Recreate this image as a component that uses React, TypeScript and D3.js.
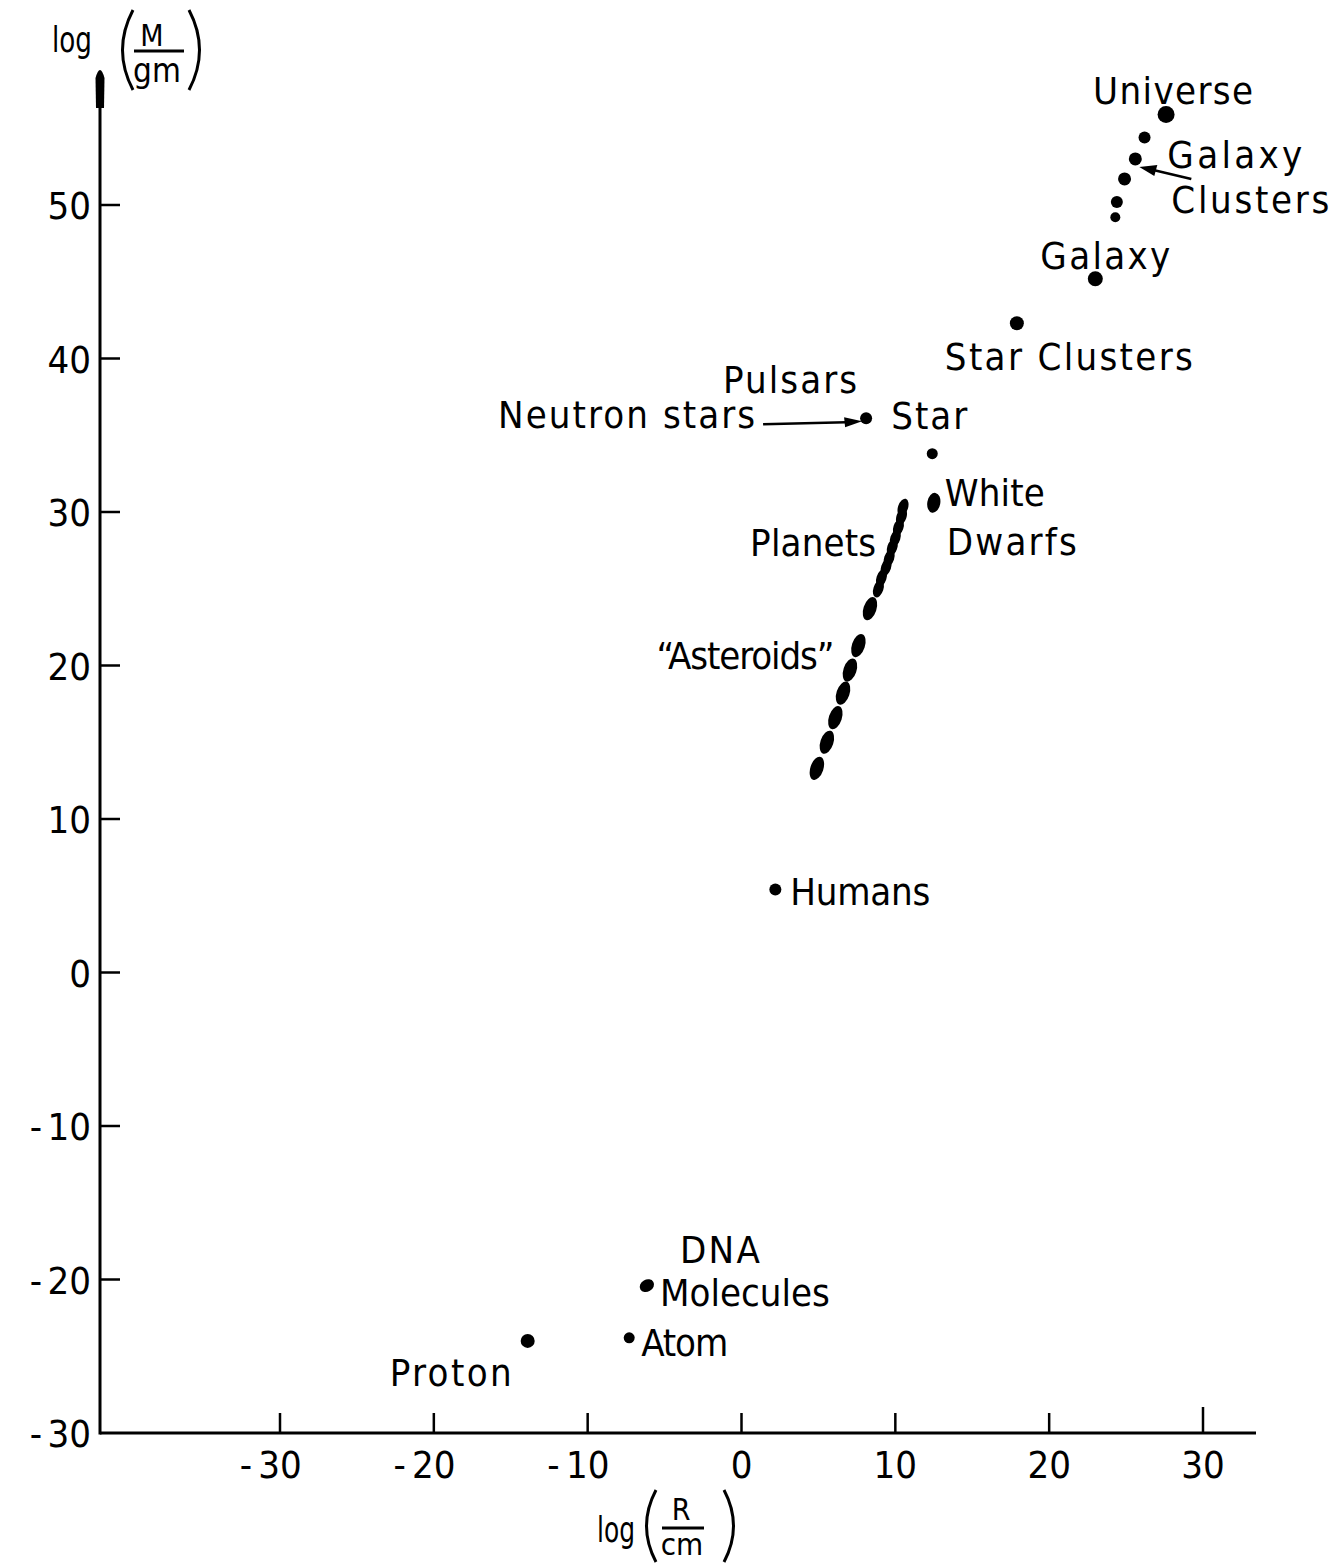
import React from "react";
import * as d3 from "d3";

// ---- data (log10 R/cm , log10 M/gm) ----
const objectNames = ["Universe", "Galaxy", "Star Clusters", "Pulsars", "Star", "White Dwarfs", "Humans", "DNA Molecules", "Atom", "Proton"];
const objectLogR = [27.6, 23.0, 17.9, 8.1, 12.4, 12.5, 2.2, -6.15, -7.3, -13.9];
const objectLogM = [55.9, 45.2, 42.3, 36.1, 33.8, 30.6, 5.4, -20.4, -23.8, -24.0];

const clusterLogR = [26.2, 25.6, 24.9, 24.4, 24.3];
const clusterLogM = [54.4, 53.0, 51.7, 50.2, 49.2];

const planetLogR = [10.5, 10.4, 10.2, 10.0, 9.8, 9.6, 9.4, 9.1, 8.9];
const planetLogM = [30.3, 29.7, 29.0, 28.3, 27.7, 27.0, 26.4, 25.7, 25.0];

const asteroidLogR = [8.35, 7.6, 7.05, 6.6, 6.1, 5.55, 4.9];
const asteroidLogM = [23.7, 21.3, 19.7, 18.2, 16.6, 15.0, 13.3];

const xTicks = [-30, -20, -10, 0, 10, 20, 30];
const yTicks = [-30, -20, -10, 0, 10, 20, 30, 40, 50];

// ---- layout ----
const W = 1339;
const H = 1565;
const FONT = "'DejaVu Sans', sans-serif";
const FS = 38;

const x = d3.scaleLinear().domain([-30, 30]).range([280, 1203]);
const y = d3.scaleLinear().domain([-30, 50]).range([1433, 205]);
const AX = 100; // y-axis position (px)
const AY = y(-30);

const dotSize: Record<string, [number, number, number]> = {
  "Universe": [8.5, 8.5, 0],
  "Galaxy": [7.5, 7.5, 0],
  "Star Clusters": [7, 7, 0],
  "Pulsars": [6, 6, 0],
  "Star": [5.5, 5.5, 0],
  "White Dwarfs": [6.5, 10, 10],
  "Humans": [6, 6, 0],
  "DNA Molecules": [7.5, 6, -30],
  "Atom": [5.5, 5.5, 0],
  "Proton": [7, 7, 0],
};
const clusterDotR = [6, 6.5, 6.5, 6, 5];
type Lab = { t: string; dx: number; dy: number; w: number };
const labelLayout: Record<string, Lab[]> = {
  "Universe": [{ t: "Universe", dx: -73, dy: -10, w: 160 }],
  "Galaxy": [{ t: "Galaxy", dx: -55, dy: -10, w: 130 }],
  "Star Clusters": [{ t: "Star Clusters", dx: -72, dy: 47, w: 248 }],
  "Pulsars": [
    { t: "Pulsars", dx: -143, dy: -25, w: 134 },
    { t: "Neutron stars", dx: -368, dy: 10, w: 257 },
  ],
  "Star": [{ t: "Star", dx: -41, dy: -25, w: 76 }],
  "White Dwarfs": [
    { t: "White", dx: 11, dy: 3, w: 100 },
    { t: "Dwarfs", dx: 13, dy: 52, w: 130 },
  ],
  "Humans": [{ t: "Humans", dx: 15, dy: 15, w: 140 }],
  "DNA Molecules": [
    { t: "DNA", dx: 33, dy: -23, w: 80 },
    { t: "Molecules", dx: 13, dy: 20, w: 170 },
  ],
  "Atom": [{ t: "Atom", dx: 12, dy: 18, w: 87 }],
  "Proton": [{ t: "Proton", dx: -138, dy: 45, w: 122 }],
};

function Label({ x0, y0, l }: { x0: number; y0: number; l: Lab }) {
  return (
    <text x={x0 + l.dx} y={y0 + l.dy} textLength={l.w} lengthAdjust="spacing" fill="#000">{l.t}</text>
  );
}

export default function App() {
  const angle = (Math.atan2(x(asteroidLogR[0]) - x(asteroidLogR[6]), y(asteroidLogM[6]) - y(asteroidLogM[0])) * 180) / Math.PI;
  const c1x = x(clusterLogR[1]), c1y = y(clusterLogM[1]);
  const pul = [x(objectLogR[3]), y(objectLogM[3])];

  return (
    <svg width={W} height={H} viewBox={`0 0 ${W} ${H}`}
      fontFamily={FONT} fontSize={FS}
      style={{ position: "absolute", left: 0, top: 0, background: "#fff", fontStretch: "condensed" }}>
      <rect width={W} height={H} fill="#fff" />
      {/* axes */}
      <line x1={AX} y1={AY} x2={1256} y2={AY} stroke="#000" strokeWidth={3} />
      <line x1={AX} y1={AY + 1.5} x2={AX} y2={100} stroke="#000" strokeWidth={3} />
      <path d={`M ${AX - 4} 108 L ${AX - 4.5} 78 Q ${AX} 62 ${AX + 4.5} 78 L ${AX + 4} 108 Z`} fill="#000" />

      {/* x ticks */}
      {xTicks.map((t) => (
        <g key={"xt" + t}>
          <line x1={x(t)} y1={AY} x2={x(t)} y2={AY - (t === 30 ? 26 : 20)} stroke="#000" strokeWidth={2.5} />
          <text x={x(t)} y={AY + 45} textAnchor="middle">{Math.abs(t)}</text>
          {t < 0 && <text x={x(t) - 28} y={AY + 45} textAnchor="end">-</text>}
        </g>
      ))}
      {/* y ticks */}
      {yTicks.map((t) => (
        <g key={"yt" + t}>
          {t !== -30 && <line x1={AX} y1={y(t)} x2={AX + 20} y2={y(t)} stroke="#000" strokeWidth={2.5} />}
          <text x={91} y={y(t) + 14} textAnchor="end">{Math.abs(t)}</text>
          {t < 0 && (
            <text x={91 - String(Math.abs(t)).length * 22 - 5} y={y(t) + 14} textAnchor="end">-</text>
          )}
        </g>
      ))}

      {/* y axis title: log(M/gm) */}
      <text x={52} y={52} fontSize={36} textLength={40} lengthAdjust="spacingAndGlyphs">log</text>
      <path d="M 133 10 Q 112 50 133 90" fill="none" stroke="#000" strokeWidth={3} />
      <text x={152} y={46} textAnchor="middle" fontSize={30}>M</text>
      <line x1={134} y1={51} x2={184} y2={51} stroke="#000" strokeWidth={3} />
      <text x={157} y={82} textAnchor="middle" fontSize={33}>gm</text>
      <path d="M 189 10 Q 210 50 189 90" fill="none" stroke="#000" strokeWidth={3} />

      {/* x axis title: log(R/cm) */}
      <text x={597} y={1542} fontSize={36} textLength={38} lengthAdjust="spacingAndGlyphs">log</text>
      <path d="M 656 1490 Q 637 1526 656 1562" fill="none" stroke="#000" strokeWidth={3} />
      <text x={681} y={1520} textAnchor="middle" fontSize={30}>R</text>
      <line x1={662} y1={1528} x2={704} y2={1528} stroke="#000" strokeWidth={3} />
      <text x={682} y={1555} textAnchor="middle" fontSize={31}>cm</text>
      <path d="M 724 1490 Q 743 1526 724 1562" fill="none" stroke="#000" strokeWidth={3} />

      {/* single objects */}
      {objectNames.map((n, i) => {
        const px = x(objectLogR[i]);
        const py = y(objectLogM[i]);
        const [rx, ry, rot] = dotSize[n];
        return (
          <g key={n}>
            <ellipse cx={px} cy={py} rx={rx} ry={ry} transform={`rotate(${rot} ${px} ${py})`} fill="#000" />
            {labelLayout[n].map((l) => <Label key={l.t} x0={px} y0={py} l={l} />)}
          </g>
        );
      })}

      {/* galaxy clusters */}
      {clusterLogR.map((r, i) => (
        <circle key={"c" + i} cx={x(r)} cy={y(clusterLogM[i])} r={clusterDotR[i]} fill="#000" />
      ))}
      <Label x0={c1x} y0={c1y} l={{ t: "Galaxy", dx: 32, dy: 9, w: 135 }} />
      <Label x0={c1x} y0={c1y} l={{ t: "Clusters", dx: 36, dy: 54, w: 158 }} />
      <line x1={c1x + 56} y1={c1y + 20} x2={c1x + 18} y2={c1y + 11} stroke="#000" strokeWidth={2.5} />
      <path d={`M ${c1x + 4} ${c1y + 8} L ${c1x + 22} ${c1y + 6} L ${c1x + 19} ${c1y + 17} Z`} fill="#000" />

      {/* neutron stars arrow */}
      <line x1={pul[0] - 103} y1={pul[1] + 6} x2={pul[0] - 20} y2={pul[1] + 4} stroke="#000" strokeWidth={2.5} />
      <path d={`M ${pul[0] - 4} ${pul[1] + 3} L ${pul[0] - 22} ${pul[1] - 1} L ${pul[0] - 21} ${pul[1] + 9} Z`} fill="#000" />

      {/* planets */}
      {planetLogR.map((r, i) => {
        const px = x(r), py = y(planetLogM[i]);
        return <ellipse key={"p" + i} cx={px} cy={py} rx={5} ry={9} transform={`rotate(${angle} ${px} ${py})`} fill="#000" />;
      })}
      <Label x0={x(planetLogR[6])} y0={y(planetLogM[6])} l={{ t: "Planets", dx: -136, dy: -11, w: 126 }} />

      {/* asteroids */}
      {asteroidLogR.map((r, i) => {
        const px = x(r), py = y(asteroidLogM[i]);
        return <ellipse key={"a" + i} cx={px} cy={py} rx={6.5} ry={12} transform={`rotate(${angle} ${px} ${py})`} fill="#000" />;
      })}
      <Label x0={x(asteroidLogR[1])} y0={y(asteroidLogM[1])} l={{ t: "“Asteroids”", dx: -202, dy: 23, w: 178 }} />
    </svg>
  );
}
